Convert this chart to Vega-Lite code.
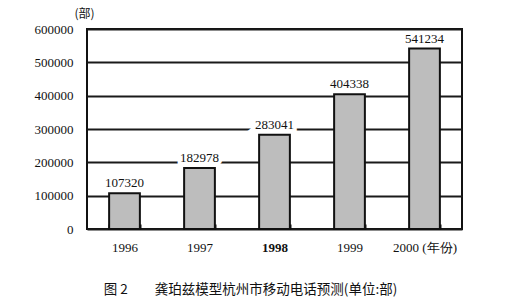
{
  "$schema": "https://vega.github.io/schema/vega-lite/v6.json",
  "autosize": "none",
  "width": 375,
  "height": 200,
  "padding": {"left": 87, "top": 29, "right": 58, "bottom": 72},
  "background": "white",
  "config": {
    "view": {"stroke": "#111", "strokeWidth": 2},
    "font": "Liberation Serif"
  },
  "title": {
    "text": "图 2\u3000\u3000龚珀兹模型杭州市移动电话预测(单位:部)",
    "orient": "bottom",
    "anchor": "middle",
    "frame": "group",
    "dx": -24,
    "offset": 29,
    "font": "Noto Sans CJK SC",
    "fontSize": 13.5,
    "fontWeight": "normal",
    "color": "#111"
  },
  "data": {
    "values": [
      {"year": "1996", "phones": 107320},
      {"year": "1997", "phones": 182978},
      {"year": "1998", "phones": 283041},
      {"year": "1999", "phones": 404338},
      {"year": "2000", "phones": 541234}
    ]
  },
  "encoding": {
    "x": {
      "field": "year",
      "type": "ordinal",
      "scale": {"paddingInner": 0.59, "paddingOuter": 0.295},
      "axis": {
        "title": null,
        "labelAngle": 0,
        "labelFont": "Liberation Serif",
        "labelFontSize": 13,
        "labelColor": "#111",
        "labelPadding": 17,
        "labelExpr": "datum.value == '2000' ? '2000 (年份)' : datum.label",
        "labelFontWeight": {"expr": "datum.value == '1998' ? 'bold' : 'normal'"},
        "tickBand": "extent",
        "tickSize": -5,
        "tickColor": "#111",
        "tickWidth": 2,
        "domain": false,
        "grid": false
      }
    },
    "y": {
      "field": "phones",
      "type": "quantitative",
      "scale": {"domain": [0, 600000], "nice": false},
      "axis": {
        "values": [0, 100000, 200000, 300000, 400000, 500000, 600000],
        "format": "d",
        "title": "(部)",
        "titleAngle": 0,
        "titleX": -3,
        "titleY": -16,
        "titleAlign": "center",
        "titleBaseline": "middle",
        "titleFont": "Noto Sans CJK SC",
        "titleFontSize": 12,
        "titleFontWeight": "normal",
        "titleColor": "#111",
        "labelFont": "Liberation Serif",
        "labelFontSize": 13,
        "labelColor": "#111",
        "labelPadding": 14,
        "ticks": false,
        "domain": false,
        "grid": true,
        "gridColor": "#1a1a1a",
        "gridWidth": 2,
        "gridOpacity": 1
      }
    }
  },
  "layer": [
    {
      "mark": {"type": "bar", "fill": "#bdbdbd", "stroke": "#111", "strokeWidth": 2}
    },
    {
      "mark": {"type": "text", "baseline": "bottom", "dy": -3, "fontSize": 13, "font": "Liberation Serif", "stroke": "white", "strokeWidth": 7, "fill": "white"},
      "encoding": {"text": {"field": "phones", "type": "quantitative", "format": "d"}}
    },
    {
      "mark": {"type": "text", "baseline": "bottom", "dy": -3, "fontSize": 13, "font": "Liberation Serif", "fill": "#111"},
      "encoding": {
        "text": {"field": "phones", "type": "quantitative", "format": "d"},
        "fontWeight": {"condition": {"test": "datum.year == '1998'", "value": "bold"}, "value": "normal"}
      }
    }
  ]
}
